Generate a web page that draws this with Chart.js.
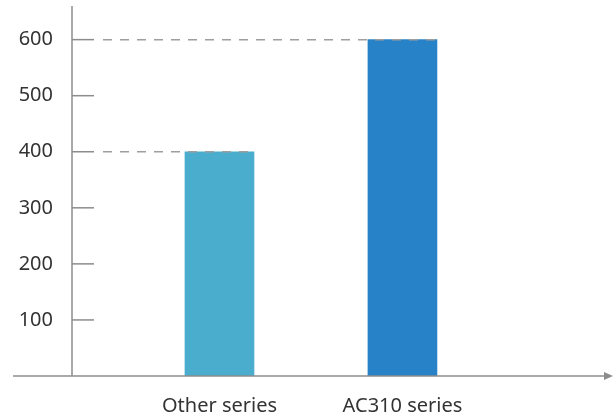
<!DOCTYPE html>
<html>
<head>
<meta charset="utf-8">
<script src="https://cdn.jsdelivr.net/npm/chart.js@4.4.1/dist/chart.umd.min.js"></script>
<style>
  html, body { margin: 0; padding: 0; background: #fff; }
  #wrap { width: 613px; height: 420px; }
</style>
</head>
<body>
<div id="wrap"><canvas id="chart"></canvas></div>
<script>
const categories = ["Other series", "AC310 series"];
const values = [400, 600];
const barColors = ["#4aadcd", "#2882c7"];
const yTicks = [100, 200, 300, 400, 500, 600];

const axisColor = "#8c8c8c";

// axes, tick marks and dashed guide lines
const axesPlugin = {
  id: "axes",
  afterDatasetsDraw(chart) {
    const { ctx, chartArea, scales } = chart;
    const x0 = chartArea.left;
    const y0 = chartArea.bottom;
    ctx.save();
    ctx.strokeStyle = axisColor;
    ctx.lineWidth = 1.5;

    // y axis
    ctx.beginPath();
    ctx.moveTo(x0, chartArea.top);
    ctx.lineTo(x0, y0);
    ctx.stroke();

    // x axis with arrow
    ctx.beginPath();
    ctx.moveTo(13, y0);
    ctx.lineTo(606, y0);
    ctx.stroke();
    ctx.fillStyle = axisColor;
    ctx.beginPath();
    ctx.moveTo(613, y0);
    ctx.lineTo(604, y0 - 4);
    ctx.lineTo(604, y0 + 4);
    ctx.closePath();
    ctx.fill();

    // short tick marks
    yTicks.forEach(v => {
      const y = scales.y.getPixelForValue(v);
      ctx.beginPath();
      ctx.moveTo(x0, y);
      ctx.lineTo(x0 + 22, y);
      ctx.stroke();
    });

    // dashed lines to the top of each bar
    ctx.strokeStyle = "#9e9e9e";
    ctx.setLineDash([9, 8]);
    const meta = chart.getDatasetMeta(0);
    meta.data.forEach((bar, i) => {
      const y = scales.y.getPixelForValue(values[i]);
      ctx.beginPath();
      ctx.moveTo(x0 + 31, y);
      ctx.lineTo(bar.x + bar.width / 2, y);
      ctx.stroke();
    });
    ctx.restore();
  }
};

new Chart(document.getElementById("chart"), {
  type: "bar",
  data: {
    datasets: [{
      data: values.map((v, i) => ({ x: i + 1, y: v })),
      backgroundColor: barColors,
      barThickness: 69
    }]
  },
  options: {
    responsive: true,
    maintainAspectRatio: false,
    animation: false,
    layout: { padding: { left: 18, top: 6, right: 8, bottom: 0 } },
    plugins: {
      legend: { display: false },
      tooltip: { enabled: false }
    },
    scales: {
      x: {
        type: "linear",
        offset: false,
        min: 0.194,
        max: 3.107,
        grid: { display: false, drawTicks: false, offset: false },
        border: { display: false },
        afterBuildTicks: s => { s.ticks = categories.map((c, i) => ({ value: i + 1 })); },
        afterFit: s => {
          s.height = 44;
          s.paddingLeft = 0;
          s.paddingRight = 0;
        },
        ticks: {
          padding: 18,
          color: "#333",
          maxRotation: 0,
          autoSkip: false,
          font: { family: "Noto Sans", size: 20 },
          callback: v => categories[v - 1]
        }
      },
      y: {
        min: 0,
        max: 660,
        grid: { display: false, drawTicks: false },
        border: { display: false },
        afterBuildTicks: s => { s.ticks = yTicks.map(v => ({ value: v })); },
        afterFit: s => {
          s.width = 54;
          s.paddingTop = 0;
          s.paddingBottom = 0;
        },
        ticks: {
          padding: 19,
          color: "#333",
          font: { family: "Noto Sans", size: 20 }
        }
      }
    }
  },
  plugins: [axesPlugin]
});
</script>
</body>
</html>
